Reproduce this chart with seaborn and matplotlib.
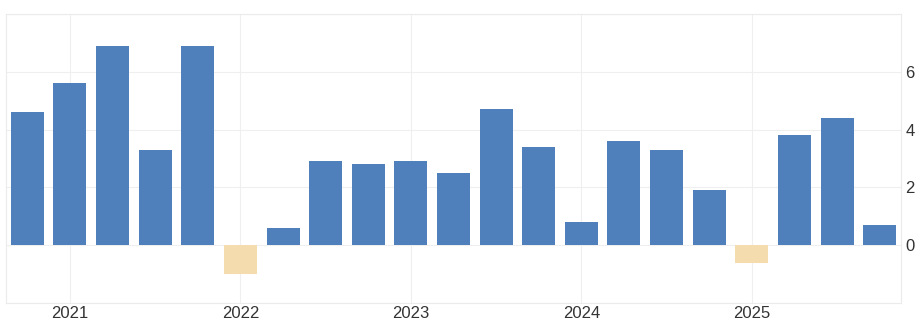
import matplotlib
matplotlib.use("Agg")
import matplotlib.pyplot as plt
import seaborn as sns
import pandas as pd

quarters = ["2020Q4", "2021Q1", "2021Q2", "2021Q3", "2021Q4",
            "2022Q1", "2022Q2", "2022Q3", "2022Q4",
            "2023Q1", "2023Q2", "2023Q3", "2023Q4",
            "2024Q1", "2024Q2", "2024Q3", "2024Q4",
            "2025Q1", "2025Q2", "2025Q3", "2025Q4"]
values = [4.6, 5.6, 6.9, 3.3, 6.9,
          -1.0, 0.6, 2.9, 2.8,
          2.9, 2.5, 4.7, 3.4,
          0.8, 3.6, 3.3, 1.9,
          -0.6, 3.8, 4.4, 0.7]
year_labels = ["2021", "2022", "2023", "2024", "2025"]
year_quarters = ["2021Q1", "2022Q1", "2023Q1", "2024Q1", "2025Q1"]
y_ticks = [0, 2, 4, 6]

df = pd.DataFrame({"quarter": quarters, "value": values})
df["sign"] = ["pos" if v >= 0 else "neg" for v in values]

sns.set_theme(style="white")
plt.rcParams["font.family"] = ["Liberation Sans", "DejaVu Sans"]

fig = plt.figure(figsize=(9.2, 3.28), dpi=100)
ax = fig.add_axes([6 / 920, 25 / 328, 895 / 920, 289 / 328])

sns.barplot(data=df, x="quarter", y="value", hue="sign",
            palette={"pos": "#4f80bc", "neg": "#f5dcae"},
            dodge=False, width=0.775, legend=False, ax=ax,
            saturation=1, linewidth=0)

ax.set_xlim(-0.5, len(quarters) - 0.5)
ax.set_ylim(-2, 8)
ax.set_xlabel("")
ax.set_ylabel("")

xpos = [quarters.index(q) for q in year_quarters]
ax.set_xticks(xpos)
ax.set_xticklabels(year_labels)
ax.set_yticks(y_ticks + [8])
ax.set_yticklabels([str(t) for t in y_ticks] + [""])
ax.yaxis.tick_right()
ax.tick_params(axis="both", length=0, labelsize=12, colors="#333333")
ax.tick_params(axis="x", pad=2)
ax.tick_params(axis="y", pad=3)

ax.grid(True, axis="both", color="#efefef", linewidth=0.8)
ax.set_axisbelow(True)
for s in ax.spines.values():
    s.set_color("#ebebeb")
    s.set_linewidth(0.8)

fig.savefig("out.png", dpi=100, facecolor="white")
